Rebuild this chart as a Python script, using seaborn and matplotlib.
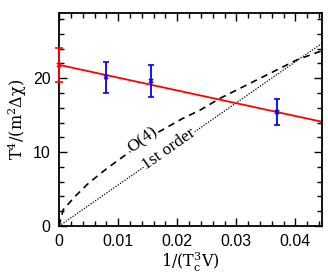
import numpy as np
import pandas as pd
import seaborn as sns
import matplotlib
matplotlib.use("Agg")
import matplotlib.pyplot as plt
from matplotlib.ticker import MultipleLocator

# measured points
lat_x = [0.0080, 0.0156, 0.0369]
lat_y = [20.1, 19.6, 15.4]
lat_err = [2.15, 2.15, 1.8]

ext_x = [0.0]
ext_y = [21.8]
ext_err = [2.3]

# linear fit
fit_x = [0.0, 0.0445]
fit_y = [21.8, 14.1]

# O(4) scaling curve
o4_x = [0.0, 0.0007, 0.0027, 0.0050, 0.0078, 0.0112, 0.0141, 0.0168,
        0.0208, 0.0239, 0.0273, 0.0318, 0.0363, 0.0403, 0.0448]
o4_y = [0.0, 2.2, 4.0, 5.8, 7.6, 9.6, 11.2, 12.7,
        14.5, 15.7, 17.3, 19.1, 20.9, 22.5, 23.8]

# first order line
first_x = [0.0, 0.0448]
first_y = [0.0, 24.9]

sns.set_style("ticks")
plt.rcParams.update({
    'font.family': ['Liberation Sans', 'DejaVu Sans'],
    'mathtext.fontset': 'dejavuserif',
    'text.color': 'black',
    'axes.labelcolor': 'black',
    'axes.edgecolor': 'black',
    'xtick.color': 'black',
    'ytick.color': 'black',
})

fig = plt.figure(figsize=(3.28, 2.73), dpi=100)
ax = fig.add_axes([0.18, 0.172, 0.802, 0.78])

sns.lineplot(x=first_x, y=first_y, ax=ax, color='black', lw=0.9,
             linestyle=(0, (1, 1.2)))
sns.lineplot(x=o4_x, y=o4_y, ax=ax, color='black', lw=1.2,
             linestyle=(0, (4, 3)))
sns.lineplot(x=fit_x, y=fit_y, ax=ax, color='red', lw=1.3)

ax.errorbar(lat_x, lat_y, yerr=lat_err, fmt='x', color='blue', ms=3,
            mew=1.2, elinewidth=1.3, capsize=2.5, capthick=1.3)
eb = ax.errorbar(ext_x, ext_y, yerr=ext_err, fmt='x', color='red', ms=3,
                 mew=1.2, elinewidth=1.3, capsize=3, capthick=1.3,
                 clip_on=False, zorder=5)
for art in eb.lines[1] + eb.lines[2]:
    art.set_zorder(5)

ax.text(0.0141, 11.7, 'O(4)', rotation=37, ha='center', va='center',
        fontsize=12.5, family=['Liberation Serif'],
        bbox=dict(facecolor='white', edgecolor='none', pad=0.3))
ax.text(0.0186, 10.4, '1st order', rotation=35, ha='center', va='center',
        fontsize=12.5, family=['Liberation Serif'],
        bbox=dict(facecolor='white', edgecolor='none', pad=0.3))

ax.set_xlim(0, 0.0445)
ax.set_ylim(0, 28.8)
ax.xaxis.set_minor_locator(MultipleLocator(0.002))
ax.yaxis.set_minor_locator(MultipleLocator(2))
ax.set_xticks([0, 0.01, 0.02, 0.03, 0.04])
ax.set_xticklabels(['0', '0.01', '0.02', '0.03', '0.04'])
ax.set_yticks([0, 10, 20])
ax.set_yticklabels(['0', '10', '20'])

ax.tick_params(which='both', direction='in', top=True, right=True,
               labelsize=11.5, width=1.0)
ax.tick_params(which='major', length=6, pad=6)
ax.tick_params(which='minor', length=3.5)
for s in ax.spines.values():
    s.set_linewidth(1.3)

ax.set_xlabel(r'$1/(\mathrm{T_c^3V})$', fontsize=11.5, labelpad=1)
ax.set_ylabel(r'$\mathrm{T^4/(m^2\Delta\chi)}$', fontsize=11.5, labelpad=3)

fig.savefig('out.png', dpi=100)
